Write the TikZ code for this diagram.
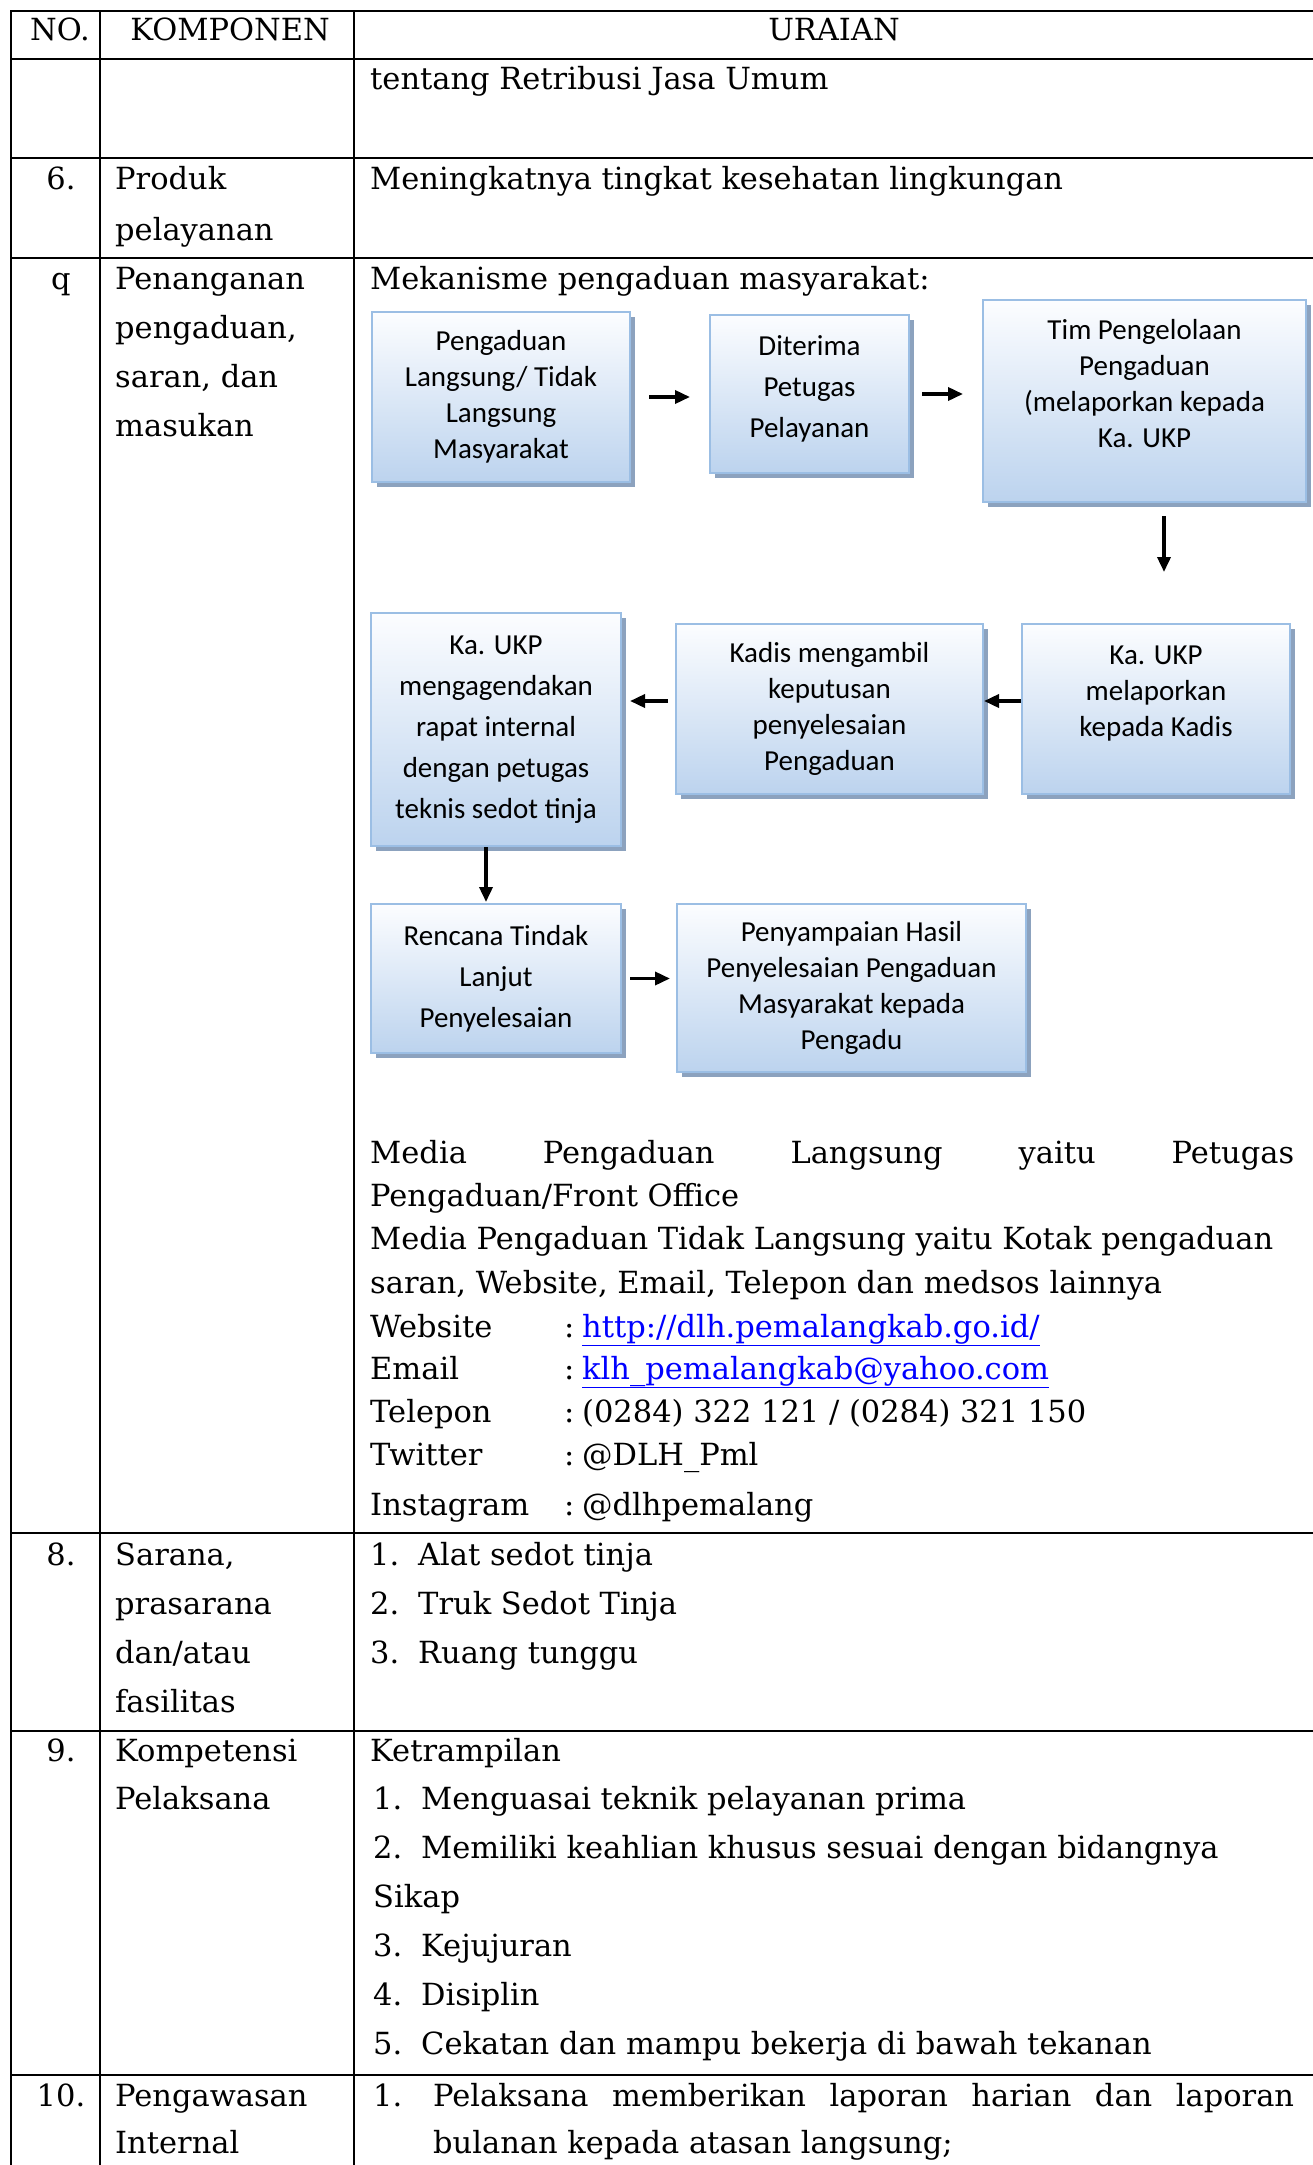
\documentclass[tikz,border=0pt]{standalone}
\usepackage{fontspec}
\setmainfont{DejaVu Serif}
\newfontfamily\boxfont{Carlito}
\usepackage{tikz}
\usetikzlibrary{arrows.meta, positioning, shadows}
\definecolor{ruleBlack}{RGB}{0,0,0}
\definecolor{boxEdge}{RGB}{155,190,228}
\definecolor{boxTop}{RGB}{252,253,255}
\definecolor{boxBottom}{RGB}{188,211,238}
\definecolor{boxShade}{RGB}{140,162,190}
\definecolor{linkBlue}{RGB}{0,0,255}
\newcommand{\weblink}[1]{\textcolor{linkBlue}{\underline{#1}}}
\newcommand{\colsep}{\makebox[18pt][l]{:}}
\tikzset{
    rule/.style={line width=2.8pt, draw=ruleBlack, line cap=rect},
    cell/.style={anchor=base west, inner sep=0pt, font=\fontsize{30.5}{43}\selectfont},
    cellc/.style={cell, anchor=base},
    flowbox/.style={rectangle, draw=boxEdge, line width=2pt, top color=boxTop, bottom color=boxBottom,
                    align=center, inner sep=0pt,
                    drop shadow={shadow xshift=5pt, shadow yshift=-5pt, fill=boxShade, opacity=1},
                    font=\boxfont\fontsize{29}{36}\selectfont},
    flowboxw/.style={flowbox, font=\boxfont\fontsize{29}{41}\selectfont},
    arr/.style={-{Triangle[length=15pt, width=13pt]}, line width=3.5pt, black}
}

\begin{document}
\begin{tikzpicture}[x=1pt, y=-1pt]
    \useasboundingbox (0,0) rectangle (1313,2165);
    % table grid
    \foreach \yy in {11,59,158,258,1533,1731,2075}
        \draw[rule] (11,\yy) -- (1313,\yy);
    \foreach \xx in {11,100,354}
        \draw[rule] (\xx,11) -- (\xx,2165);

    % header
    \node[cellc] (hNo) at (60,41) {NO.};
    \node[cellc] (hKomp) at (230,41) {KOMPONEN};
    \node[cellc] (hUraian) at (834,41) {URAIAN};

    \node[cell] (uA) at (370,90) {tentang Retribusi Jasa Umum};

    % row 6
    \node[cellc] (n6) at (61,189) {6.};
    \node[cell] (k6a) at (115,189) {Produk};
    \node[cell] (k6b) at (115,240) {pelayanan};
    \node[cell] (u6) at (370,189) {Meningkatnya tingkat kesehatan lingkungan};

    % row q
    \node[cellc] (nq) at (61,289) {q};
    \foreach \w [count=\i from 0] in {Penanganan, {pengaduan,}, {saran, dan}, masukan}
        \node[cell] (kq\i) at (115,289+49*\i) {\w};
    \node[cell] (uq) at (370,289) {Mekanisme pengaduan masyarakat:};

    % flow
    \node[flowbox, minimum width=258pt, minimum height=170pt] (aduan) at (501,397)
        {Pengaduan\\Langsung/ Tidak\\Langsung\\Masyarakat};
    \node[flowboxw, minimum width=199pt, minimum height=158pt] (terima) at (809.5,394)
        {Diterima\\Petugas\\Pelayanan\rule[-14pt]{0pt}{0pt}};
    \node[flowbox, minimum width=323pt, minimum height=202pt] (tim) at (1144.5,401)
        {Tim Pengelolaan\\Pengaduan\\(melaporkan kepada\\Ka. UKP\\~};
    \node[flowbox, minimum width=268pt, minimum height=170pt] (lapor) at (1156,709)
        {Ka. UKP\\melaporkan\\kepada Kadis\\~};
    \node[flowbox, minimum width=307pt, minimum height=170pt] (kadis) at (829.5,709)
        {Kadis mengambil\\keputusan\\penyelesaian\\Pengaduan};
    \node[flowboxw, minimum width=250pt, minimum height=233pt] (agenda) at (496,729.5)
        {Ka. UKP\\mengagendakan\\rapat internal\\dengan petugas\\teknis sedot tinja};
    \node[flowboxw, minimum width=250pt, minimum height=149pt] (rencana) at (496,978.5)
        {Rencana Tindak\\Lanjut\\Penyelesaian};
    \node[flowbox, minimum width=349pt, minimum height=168pt] (hasil) at (851.5,988)
        {Penyampaian Hasil\\Penyelesaian Pengaduan\\Masyarakat kepada\\Pengadu};

    \draw[arr, shorten <=18pt, shorten >=19pt] (aduan.east) -- (aduan.east -| terima.west);
    \draw[arr, shorten <=12pt, shorten >=19pt] (terima.east) -- (terima.east -| tim.west);
    \draw[arr, shorten <=13pt, shorten >=51pt] ([xshift=19.5pt]tim.south) -- ([xshift=8pt]lapor.north);
    \draw[arr] ([yshift=8pt]lapor.west) -- ([yshift=8pt]kadis.east);
    \draw[arr, shorten <=7pt, shorten >=8pt] ([yshift=8pt]kadis.west) -- ([yshift=28.5pt]agenda.east);
    \draw[arr, shorten >=1pt] ([xshift=-10pt]agenda.south) -- ([xshift=-10pt]rencana.north);
    \draw[arr, shorten <=8pt, shorten >=6pt] (rencana.east) -- (rencana.east -| hasil.west);

    % media
    \node[cell] (m1) at (370,1163) {\makebox[924pt][s]{Media Pengaduan Langsung yaitu Petugas}};
    \node[cell] (m2) at (370,1206) {Pengaduan/Front Office};
    \node[cell] (m3) at (370,1249) {Media Pengaduan Tidak Langsung yaitu Kotak pengaduan};
    \node[cell] (m4) at (370,1293) {saran, Website, Email, Telepon dan medsos lainnya};
    \node[cell] (cWeb) at (370,1337) {Website};
    \node[cell] (vWeb) at (564,1337) {\colsep\weblink{http://dlh.pemalangkab.go.id/}};
    \node[cell] (cMail) at (370,1379) {Email};
    \node[cell] (vMail) at (564,1379) {\colsep\weblink{klh\_pemalangkab@yahoo.com}};
    \node[cell] (cTel) at (370,1422) {Telepon};
    \node[cell] (vTel) at (564,1422) {\colsep(0284) 322 121 / (0284) 321 150};
    \node[cell] (cTw) at (370,1465) {Twitter};
    \node[cell] (vTw) at (564,1465) {\colsep@DLH\_Pml};
    \node[cell] (cIg) at (370,1515) {Instagram};
    \node[cell] (vIg) at (564,1515) {\colsep@dlhpemalang};

    % row 8
    \node[cellc] (n8) at (61,1565) {8.};
    \foreach \w [count=\i from 0] in {{Sarana,}, prasarana, dan/atau, fasilitas}
        \node[cell] (k8\i) at (115,1565+49*\i) {\w};
    \foreach \w [count=\i] in {Alat sedot tinja, Truk Sedot Tinja, Ruang tunggu} {
        \node[cell] (sn\i) at (370,1516+49*\i) {\i.};
        \node[cell] (s\i) at (418,1516+49*\i) {\w};
    }

    % row 9
    \node[cellc] (n9) at (61,1761) {9.};
    \node[cell] (k9a) at (115,1761) {Kompetensi};
    \node[cell] (k9b) at (115,1809) {Pelaksana};
    \node[cell] (t9) at (370,1761) {Ketrampilan};
    \foreach \w/\yy [count=\i] in {Menguasai teknik pelayanan prima/1809,
            Memiliki keahlian khusus sesuai dengan bidangnya/1858,
            Kejujuran/1956, Disiplin/2005, Cekatan dan mampu bekerja di bawah tekanan/2054} {
        \node[cell] (pn\i) at (373,\yy) {\i.};
        \node[cell] (p\i) at (421,\yy) {\w};
    }
    \node[cell] (sk9) at (373,1907) {Sikap};

    % row 10
    \node[cellc] (n10) at (61,2106) {10.};
    \node[cell] (k10a) at (115,2106) {Pengawasan};
    \node[cell] (k10b) at (115,2153) {Internal};
    \node[cell] (wn1) at (373,2106) {1.};
    \node[cell] (w1a) at (433,2106) {\makebox[861pt][s]{Pelaksana memberikan laporan harian dan laporan}};
    \node[cell] (w1b) at (433,2153) {bulanan kepada atasan langsung;};
\end{tikzpicture}
\end{document}
